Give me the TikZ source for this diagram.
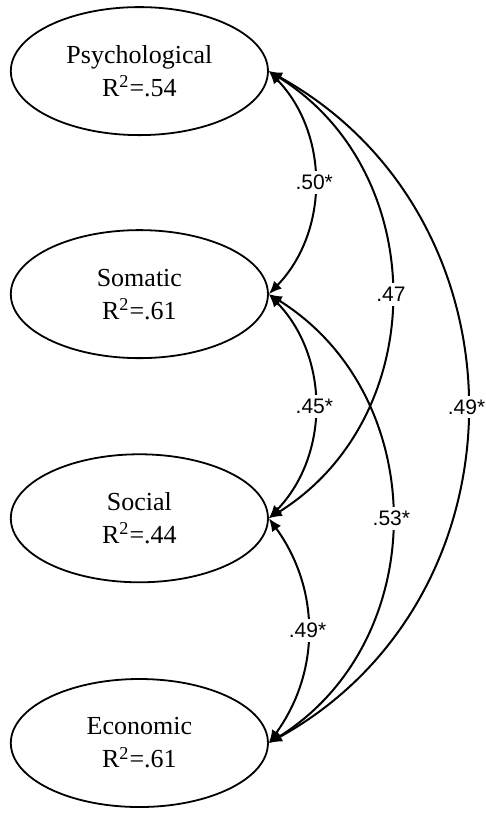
\documentclass[tikz,border=0pt]{standalone}
\usepackage{fontspec}
\setmainfont{Liberation Serif}
\newfontfamily\coeffont{Liberation Sans}
\usetikzlibrary{shapes.geometric,arrows.meta}
\tikzset{
	latent/.style={ellipse, draw, line width=0.9pt, minimum width=4.52cm, minimum height=2.25cm, inner sep=0pt, align=center, font=\fontsize{13}{16.5}\selectfont},
	corr/.style={{Latex[length=6.5pt,width=5.5pt]}-{Latex[length=6.5pt,width=5.5pt]}, line width=1pt},
	coef/.style={fill=white, inner xsep=1pt, inner ysep=2pt, font=\coeffont\fontsize{10.5}{12}\selectfont}
}
\begin{document}
\begin{tikzpicture}
	\useasboundingbox (0, 0) rectangle (8.54, 14.29);
	\node[latent] (psych) at (2.45, 13.04) {Psychological\\R\textsuperscript{2}=.54};
	\node[latent] (somatic) at (2.45, 9.12) {Somatic\\R\textsuperscript{2}=.61};
	\node[latent] (social) at (2.45, 5.18) {Social\\R\textsuperscript{2}=.44};
	\node[latent] (econ) at (2.45, 1.23) {Economic\\R\textsuperscript{2}=.61};
	% correlations between the four factors
	\draw[corr] (psych.east) to[bend left=61, looseness=1.15] node[coef] {.49*} (econ.east);
	\draw[corr] (psych.east) to[bend left=58, looseness=1.1] node[coef] {.47} (social.east);
	\draw[corr] (somatic.east) to[bend left=58, looseness=1.1] node[coef] {.53*} (econ.east);
	\draw[corr] (psych.east) to[bend left=44] node[coef] {.50*} (somatic.east);
	\draw[corr] (somatic.east) to[bend left=44] node[coef] {.45*} (social.east);
	\draw[corr] (social.east) to[bend left=36] node[coef] {.49*} (econ.east);
\end{tikzpicture}
\end{document}
